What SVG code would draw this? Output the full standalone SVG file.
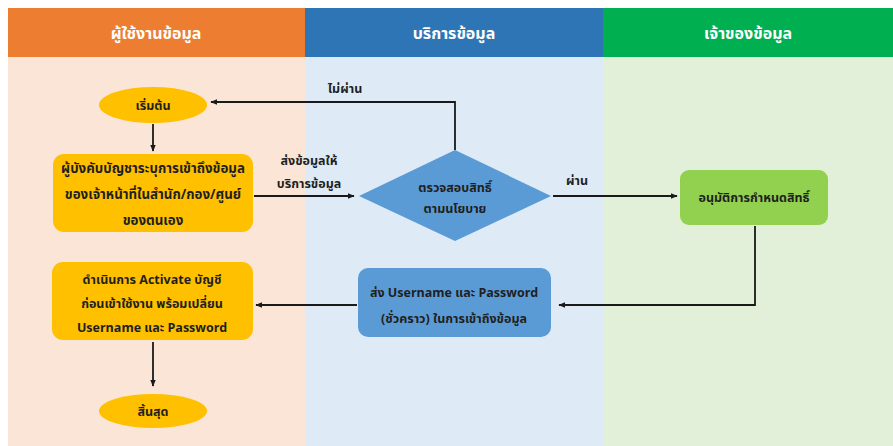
<svg xmlns="http://www.w3.org/2000/svg" width="893" height="446" viewBox="0 0 893 446">
<defs>
<style>
text{font-family:"Noto Sans Thai","Leelawadee UI","Tahoma","Noto Sans","DejaVu Sans",sans-serif;text-anchor:middle;}
.hd{fill:#ffffff;font-size:16px;font-weight:bold;}
.t{fill:#1f1f1f;font-size:12.5px;font-weight:bold;}
.t13{fill:#1f1f1f;font-size:13.3px;font-weight:bold;}
.lb{fill:#1f1f1f;font-size:12.5px;font-weight:bold;}
.ln{fill:none;stroke:#1a1a1a;stroke-width:1.8;}
.y{fill:#FFC000;}
</style>
<marker id="ah" viewBox="0 0 10 10" refX="9" refY="5" markerWidth="7" markerHeight="7" orient="auto" markerUnits="userSpaceOnUse">
<path d="M0,1 L10,5 L0,9 z" fill="#1a1a1a"/>
</marker>
</defs>
<rect x="0" y="0" width="893" height="446" fill="#ffffff"/>
<g id="lanes">
<rect x="8" y="57" width="297" height="389" fill="#FBE5D6"/>
<rect x="305" y="57" width="298" height="389" fill="#DEEBF7"/>
<rect x="603" y="57" width="290" height="389" fill="#E2F0D9"/>
<rect x="8" y="8" width="297" height="49" fill="#ED7D31"/>
<rect x="305" y="8" width="298" height="49" fill="#2E75B6"/>
<rect x="603" y="8" width="290" height="49" fill="#00B050"/>
<text class="hd" x="156" y="39">ผู้ใช้งานข้อมูล</text>
<text class="hd" x="454" y="39">บริการข้อมูล</text>
<text class="hd" x="748" y="39">เจ้าของข้อมูล</text>
</g>
<g id="connectors">
<line class="ln" x1="153" y1="124" x2="153" y2="151" marker-end="url(#ah)"/>
<line class="ln" x1="254" y1="196" x2="354" y2="196" marker-end="url(#ah)"/>
<polyline class="ln" points="455,150 455,102 211,102" marker-end="url(#ah)"/>
<line class="ln" x1="553" y1="196" x2="677" y2="196" marker-end="url(#ah)"/>
<polyline class="ln" points="755,226 755,305 559,305" marker-end="url(#ah)"/>
<line class="ln" x1="357" y1="305" x2="256" y2="305" marker-end="url(#ah)"/>
<line class="ln" x1="153" y1="342" x2="153" y2="386" marker-end="url(#ah)"/>
<text class="lb" x="345" y="93">ไม่ผ่าน</text>
<text class="lb" x="309" y="165">ส่งข้อมูลให้</text>
<text class="lb" x="309" y="188">บริการข้อมูล</text>
<text class="lb" x="577" y="185">ผ่าน</text>
</g>
<g id="start">
<ellipse class="y" cx="153" cy="105" rx="54" ry="18"/>
<text class="t" x="153" y="110">เริ่มต้น</text>
</g>
<g id="request">
<rect class="y" x="53" y="154" width="200" height="78" rx="11"/>
<text class="t13" x="153" y="173">ผู้บังคับบัญชาระบุการเข้าถึงข้อมูล</text>
<text class="t13" x="153" y="199">ของเจ้าหน้าที่ในสำนัก/กอง/ศูนย์</text>
<text class="t13" x="153" y="225">ของตนเอง</text>
</g>
<g id="check">
<polygon points="455,150 551,196 455,241 359,196" fill="#5B9BD5"/>
<text class="t" x="455" y="192">ตรวจสอบสิทธิ์</text>
<text class="t" x="455" y="213">ตามนโยบาย</text>
</g>
<g id="approve">
<rect x="680" y="170" width="148" height="55" rx="9" fill="#92D050"/>
<text class="t" x="754" y="202">อนุมัติการกำหนดสิทธิ์</text>
</g>
<g id="send">
<rect x="358" y="268" width="193" height="69" rx="10" fill="#5B9BD5"/>
<text class="t" x="454" y="297">ส่ง Username และ Password</text>
<text class="t" x="454" y="323">(ชั่วคราว) ในการเข้าถึงข้อมูล</text>
</g>
<g id="activate">
<rect class="y" x="52" y="262" width="201" height="78" rx="11"/>
<text class="t" x="152" y="284">ดำเนินการ Activate บัญชี</text>
<text class="t" x="152" y="308">ก่อนเข้าใช้งาน พร้อมเปลี่ยน</text>
<text class="t" x="152" y="332">Username และ Password</text>
</g>
<g id="end">
<ellipse class="y" cx="153" cy="411" rx="54" ry="17"/>
<text class="t" x="153" y="416">สิ้นสุด</text>
</g>
</svg>
